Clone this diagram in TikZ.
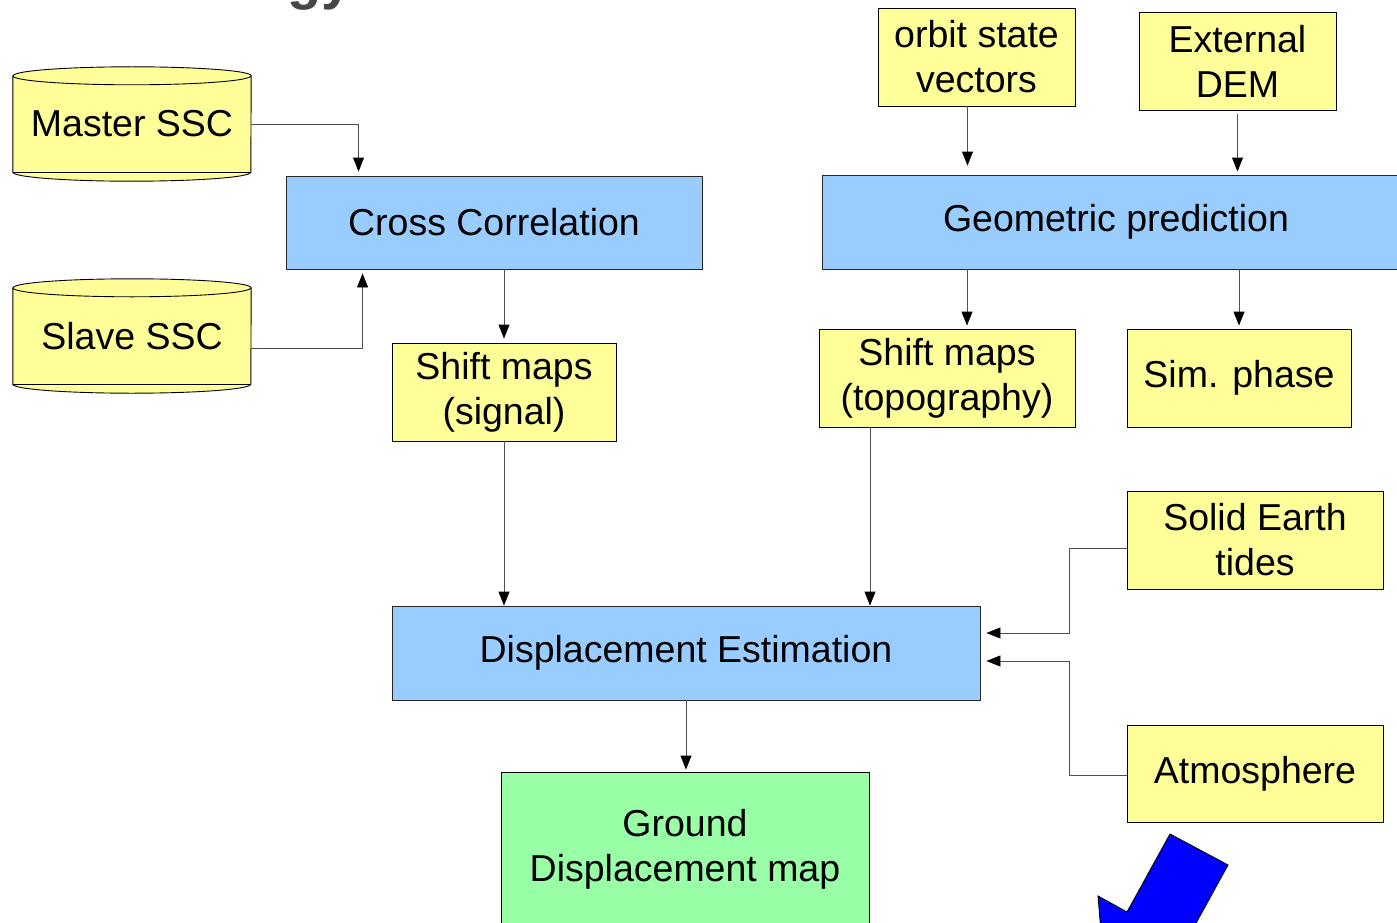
\documentclass[tikz,border=0pt]{standalone}
\usepackage{fontspec}
\setmainfont{Liberation Sans}
\usetikzlibrary{arrows.meta}
\definecolor{datayellow}{HTML}{FFFF99}
\definecolor{procblue}{HTML}{99CCFF}
\definecolor{resultgreen}{HTML}{99FFA6}
\definecolor{titlegrey}{HTML}{464646}
\definecolor{flowgrey}{HTML}{505050}
\pgfdeclarelayer{background}
\pgfsetlayers{background,main}

\begin{document}
\begin{tikzpicture}[x=1pt,y=-1pt,>={Triangle[length=14pt,width=11pt,color=black]},
    every node/.style={font=\fontsize{37.5}{45}\selectfont, align=center, inner sep=0pt},
    databox/.style={draw=black, line width=0.9pt, fill=datayellow},
    procbox/.style={draw=black!85, line width=0.9pt, fill=procblue},
    flow/.style={draw=flowgrey, line width=0.9pt}]  % pixel units, y pointing down
    \useasboundingbox (0,0) rectangle (1397,923);

    % cut-off title at the top
    \node[anchor=base east, font=\fontsize{56}{56}\selectfont\bfseries, text=titlegrey] (title) at (353,-1.5) {Methodology};

    % input stores (drawn as cylinders below)
    \node[minimum width=238pt, minimum height=114pt] (master) at (132,124) {Master SSC};
    \node[minimum width=238pt, minimum height=114pt] (slave) at (132,336) {Slave SSC};

    % processing steps
    \node[procbox, minimum width=416pt, minimum height=93pt] (cc) at (494,222.5) {Cross Correlation};
    \node[procbox, minimum width=588pt, minimum height=94pt] (geom) at (1116,222) {Geometric prediction};
    \node[procbox, minimum width=588pt, minimum height=94pt] (de) at (686,653) {Displacement Estimation};

    % data boxes
    \node[databox, minimum width=197pt, minimum height=98pt] (orbit) at (976.5,57) {orbit state\\vectors};
    \node[databox, minimum width=197pt, minimum height=98pt] (dem) at (1237.5,61) {External\\DEM};
    \node[databox, minimum width=224pt, minimum height=98pt] (sig) at (504,392) {Shift maps\\(signal)};
    \node[databox, minimum width=256pt, minimum height=98pt] (topo) at (947,378) {Shift maps\\(topography)};
    \node[databox, minimum width=224pt, minimum height=98pt] (sim) at (1239,378) {Sim. phase};
    \node[databox, minimum width=256pt, minimum height=98pt] (tides) at (1255,540) {Solid Earth\\tides};
    \node[databox, minimum width=256pt, minimum height=97pt] (atm) at (1255,773.5) {Atmosphere};

    % result
    \node[draw=black, line width=0.9pt, fill=resultgreen, minimum width=368pt, minimum height=154pt] (ground) at (685,849) {Ground\\Displacement map};

    % cylinder outlines behind the store labels
    \begin{pgfonlayer}{background}
    \foreach \n in {master,slave} {
        \path[databox] ([yshift=-9pt]\n.north west) -- ([yshift=9pt]\n.south west)
            arc[start angle=180, end angle=360, x radius=119pt, y radius=9pt]
            -- ([yshift=-9pt]\n.north east)
            arc[start angle=0, end angle=180, x radius=119pt, y radius=9pt] -- cycle;
        \draw[line width=0.9pt] ([yshift=-9pt]\n.north west) arc[start angle=180, end angle=360, x radius=119pt, y radius=9pt];
        \draw[line width=0.6pt] ([yshift=9pt]\n.south west) -- ([yshift=9pt]\n.south east);
    }
    \end{pgfonlayer}

    % connectors
    \draw[flow,->,shorten >=4pt] (master.east) -| ([xshift=73pt]cc.north west);
    \draw[flow,->,shorten >=4pt] ([yshift=-12pt]slave.east) -| ([xshift=77pt]cc.south west);
    \draw[flow,->,shorten >=4pt] (sig.north |- cc.south) -- (sig.north);
    \draw[flow,->,shorten >=9pt] ([xshift=-9pt]orbit.south) -- ([xshift=-9pt]orbit.south |- geom.north);
    \draw[flow,->,shorten <=4pt,shorten >=3pt] (dem.south) -- (dem.south |- geom.north);
    \draw[flow,->,shorten >=3pt] ([xshift=20pt]topo.north |- geom.south) -- ([xshift=20pt]topo.north);
    \draw[flow,->,shorten >=3pt] (sim.north |- geom.south) -- (sim.north);
    \draw[flow,->] (sig.south) -- (sig.south |- de.north);
    \draw[flow,->] ([xshift=-77pt]topo.south) -- ([xshift=-77pt]topo.south |- de.north);
    \draw[flow,->,shorten >=6pt] ([yshift=-8pt]tides.west) -- ++(-57,0) |- ([yshift=20pt]de.east);
    \draw[flow,->,shorten >=6pt] ([yshift=-2pt]atm.west) -- ++(-57,0) |- ([yshift=-8pt]de.east);
    \draw[flow,->,shorten >=2pt] (de.south) -- (de.south |- ground.north);

    % blue block arrow, bottom right
    \draw[line width=0.9pt, fill=blue] (1170,834) -- (1228,865) -- (1185,943) -- (1214,959)
        -- (1108,1015) -- (1098,896) -- (1127,912) -- cycle;
\end{tikzpicture}
\end{document}
